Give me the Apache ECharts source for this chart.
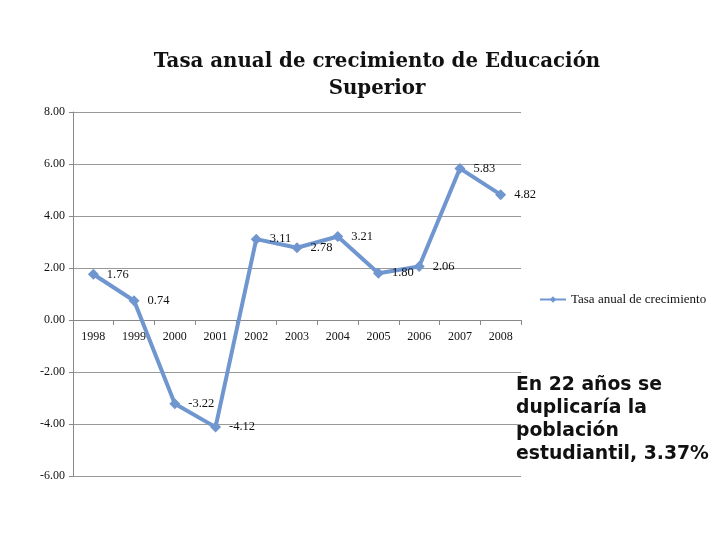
<!DOCTYPE html>
<html><head><meta charset="utf-8">
<script src="https://cdn.jsdelivr.net/npm/echarts@6/dist/echarts.min.js"></script>
<style>html,body{margin:0;padding:0;background:#fff}#c{width:720px;height:540px}</style>
</head><body><div id="c"></div>
<script>
var categories = ['1998','1999','2000','2001','2002','2003','2004','2005','2006','2007','2008'];
var values = [1.76, 0.74, -3.22, -4.12, 3.11, 2.78, 3.21, 1.80, 2.06, 5.83, 4.82];
var seriesName = 'Tasa anual de crecimiento';
var titleText = 'Tasa anual de crecimiento de Educación\nSuperior';
var noteText = 'En 22 años se\nduplicaría la\npoblación\nestudiantil, 3.37%';

var chart = echarts.init(document.getElementById('c'));
chart.setOption({
  animation: false,
  title: {
    text: titleText, left: 372, top: 43, textAlign: 'center',
    textStyle: {fontFamily: 'DejaVu Serif', fontWeight: 'bold', fontSize: 19.8, lineHeight: 27, color: '#111'}
  },
  legend: {
    data: [seriesName], left: 534, top: 288, itemWidth: 26, itemHeight: 8, itemGap: 3,
    textStyle: {fontFamily: 'Liberation Serif', fontSize: 13, color: '#111'}
  },
  graphic: [{
    type: 'text', left: 516, top: 374,
    style: {text: noteText, font: 'bold 18.8px "DejaVu Sans"', lineHeight: 23, fill: '#111'}
  }],
  grid: {left: 73, right: 199, top: 112, bottom: 64, containLabel: false},
  xAxis: {
    type: 'category', data: categories, boundaryGap: true,
    offset: -156,
    axisLine: {onZero: false, lineStyle: {color: '#888', width: 1}},
    axisTick: {show: true, length: 5, lineStyle: {color: '#888'}},
    axisLabel: {fontFamily: 'Liberation Serif', fontSize: 12, color: '#111', margin: 11},
    splitLine: {show: false}
  },
  yAxis: {
    type: 'value', min: -6, max: 8, interval: 2,
    axisLine: {show: true, lineStyle: {color: '#888'}},
    axisTick: {show: true, length: 4, lineStyle: {color: '#888'}},
    axisLabel: {fontFamily: 'Liberation Serif', fontSize: 12, color: '#111', margin: 8,
      formatter: function(v){ return v.toFixed(2); }},
    splitLine: {show: true, lineStyle: {color: '#999', width: 1}}
  },
  series: [{
    name: seriesName, type: 'line', data: values,
    symbol: 'diamond', symbolSize: 11,
    lineStyle: {color: '#7096d0', width: 4},
    itemStyle: {color: '#7096d0'},
    label: {show: true, position: 'right', distance: 8,
      fontFamily: 'Liberation Serif', fontSize: 12.5, color: '#111',
      formatter: function(p){ return p.value.toFixed(2); }}
  }]
});
</script></body></html>
